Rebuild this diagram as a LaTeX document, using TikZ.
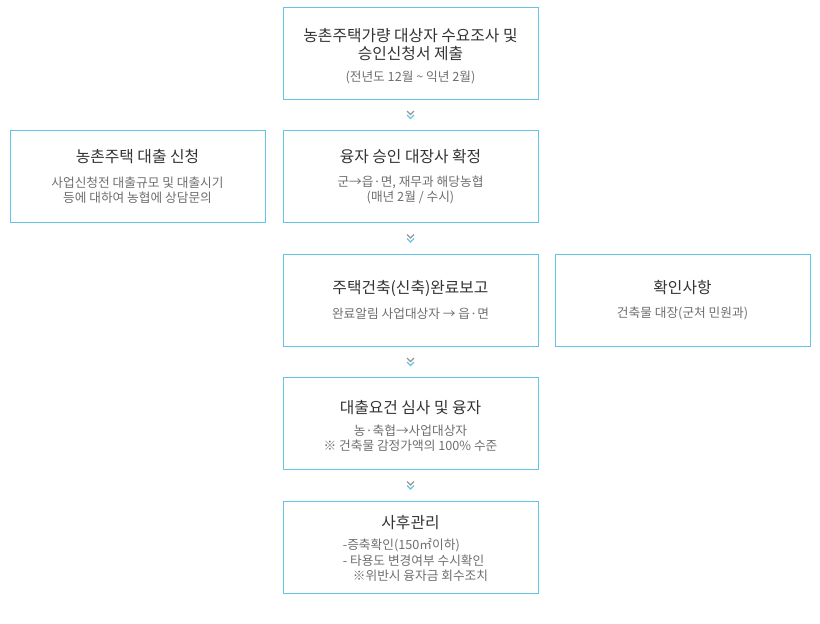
\documentclass[tikz,border=0pt]{standalone}
\usepackage{fontspec}
\setmainfont{Noto Sans CJK KR}
\usepackage{tikz}
\usetikzlibrary{positioning}
\definecolor{boxblue}{RGB}{100,196,230}
\definecolor{titlegray}{RGB}{51,51,51}
\definecolor{subgray}{RGB}{110,110,110}
\definecolor{chevgray}{RGB}{150,150,150}
\newcommand{\boxtitle}[1]{{\fontsize{15.8}{18}\selectfont\color{titlegray}#1}}
\begin{document}
\begin{tikzpicture}[x=1pt, y=1pt, node distance=30.5pt,
		box/.style={draw=boxblue, line width=1pt, minimum width=255pt, minimum height=92pt, inner sep=0pt, align=center, text=subgray, font=\fontsize{12.7}{15.3}\selectfont},
		chev/.pic={
			\draw[chevgray, line width=1.1pt] (-3.5,4) -- (0,0.5) -- (3.5,4);
			\draw[boxblue, line width=1.1pt] (-3.5,0) -- (0,-3.5) -- (3.5,0);
		}]
		\useasboundingbox (0,0) rectangle (820,-624);
		\node[box] (survey) at (410.5,-53) {\mbox{}\\[4.5pt]\boxtitle{농촌주택가량 대상자 수요조사 및}\\[2.7pt]\boxtitle{승인신청서 제출}\\[7pt](전년도 12월 \textasciitilde{} 익년 2월)};
		\node[box, below=of survey] (approve) {\boxtitle{융자 승인 대장사 확정}\\[9pt]군→읍·면, 재무과 해당농협\\(매년 2월 / 수시)};
		\node[box, left=17pt of approve] (apply) {\boxtitle{농촌주택 대출 신청}\\[9pt]사업신청전 대출규모 및 대출시기\\등에 대하여 농협에 상담문의};
		\node[box, below=of approve] (report) {\boxtitle{주택건축(신축)완료보고}\\[9pt]완료알림 사업대상자 → 읍·면};
		\node[box, right=16pt of report] (check) {\boxtitle{확인사항}\\[9pt]건축물 대장(군처 민원과)};
		\node[box, below=of report] (review) {\mbox{}\\[2.7pt]\boxtitle{대출요건 심사 및 융자}\\[7pt]농·축협→사업대상자\\※ 건축물 감정가액의 100\% 수준};
		\node[box, below=of review] (manage) {\mbox{}\\[4.5pt]\boxtitle{사후관리}\\[8pt]\hspace{10pt}\begin{tabular}{@{}l@{}}-증축확인(150㎡이하)\\- 타용도 변경여부 수시확인\\\hspace{10pt}※위반시 융자금 회수조치\end{tabular}};
		\pic at ([yshift=-15.5pt]survey.south) {chev};
		\pic at ([yshift=-15.5pt]approve.south) {chev};
		\pic at ([yshift=-15.5pt]report.south) {chev};
		\pic at ([yshift=-15.5pt]review.south) {chev};
	\end{tikzpicture}
\end{document}
